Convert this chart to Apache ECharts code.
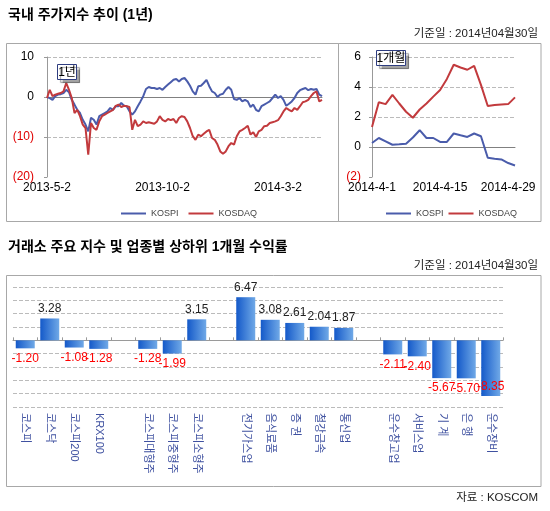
<!DOCTYPE html>
<html><head><meta charset="utf-8">
<script src="https://cdn.jsdelivr.net/npm/echarts@6/dist/echarts.min.js"></script>
<style>html,body{margin:0;padding:0;background:#fff}#c{width:550px;height:511px}</style>
</head><body><div id="c"></div>
<script>
// ---- 1-year index trend (% change) ----
const yearTickLabels = ['2013-5-2', '2013-10-2', '2014-3-2'];
const yearTickIndex = [0, 42, 84];
const kospiYear = [0, -0.3, -0.7, 0.2, 0.6, 0.7, 1.0, 1.8, 1.2, -0.7,
  -1.9, -3.2, -4.0, -5.7, -6.9, -8.6, -5.2, -5.7, -6.9, -4.8,
  -4.4, -4.0, -3.6, -2.75, -3.2, -2.3, -2.3, -1.5, -2.2, -2.3,
  -3.6, -4.4, -3.6, -2.3, -1.1, 0.2, 2.0, 2.5, 2.25, 2.25,
  2.0, 2.25, 1.8, 2.5, 3.1, 3.7, 4.3, 4.5, 3.9, 4.5,
  4.75, 3.9, 2.8, 1.4, 0.6, 2.7, 2.8, 3.5, 4.3, 2.7,
  1.4, 1.0, 0, 0.6, 0.8, 1.8, 2.5, 1.8, -0.5, -0.7,
  -0.25, -1.1, -0.7, -1.1, -2.5, -1.9, -3.2, -3.6, -2.3, -1.9,
  -1.5, -1.1, -0.25, 0.6, -0.25, 0.2, -0.7, -2.2, -1.7, -1.1,
  -0.25, 1.0, 1.7, 2.0, 2.25, 1.7, 2.0, 1.8, 2.0, 0.6, 0.2];
const kosdaqYear = [-0.25, 1.8, 0.2, 0.6, 0.8, 1.0, 1.4, 3.5, 1.8, -0.25,
  -4.0, -3.2, -4.8, -6.9, -7.75, -14.4, -6.5, -7.75, -8.2, -6.1,
  -4.8, -4.4, -4.0, -3.6, -3.2, -2.2, -1.9, -2.5, -2.2, -2.3,
  -2.5, -8.2, -5.7, -7.3, -6.9, -6.1, -6.5, -6.3, -6.5, -6.7,
  -6.1, -4.8, -5.7, -6.1, -5.5, -5.8, -5.5, -6.5, -5.25, -4.8,
  -5.0, -6.1, -7.75, -9.8, -10.7, -9.4, -9.8, -9.2, -8.6, -8.2,
  -10.25, -10.7, -11.9, -13.6, -14.2, -13.6, -12.3, -11.5, -11.9, -9.8,
  -8.6, -8.2, -7.75, -7.2, -9.4, -8.8, -10.0, -8.6, -8.2, -7.3,
  -7.2, -6.5, -6.3, -6.1, -5.8, -4.8, -3.6, -2.75, -3.2, -3.6,
  -2.75, -3.2, -2.3, -1.3, -1.1, -0.7, 0.2, 1.0, 1.4, -1.1, -0.7];

// ---- 1-month index trend (% change) ----
const monthDates = ['2014-4-1', '2014-4-2', '2014-4-3', '2014-4-4', '2014-4-7', '2014-4-8',
  '2014-4-9', '2014-4-10', '2014-4-11', '2014-4-14', '2014-4-15', '2014-4-16', '2014-4-17',
  '2014-4-18', '2014-4-21', '2014-4-22', '2014-4-23', '2014-4-24', '2014-4-25', '2014-4-28',
  '2014-4-29', '2014-4-30'];
const kospiMonth = [0.27, 0.6, 0.38, 0.15, 0.18, 0.22, 0.63, 1.12, 0.6, 0.6,
  0.34, 0.34, 0.9, 0.78, 0.67, 0.9, 0.72, -0.72, -0.78, -0.83, -1.07, -1.23];
const kosdaqMonth = [1.34, 2.98, 2.86, 3.47, 2.9, 2.35, 1.95, 2.5, 2.9, 3.36, 3.8,
  4.54, 5.48, 5.3, 5.15, 5.41, 4.14, 2.73, 2.8, 2.84, 2.86, 3.31];

// ---- 1-month returns of main indices & sectors ----
const barCategories = ['코스피', '코스닥', '코스피200', 'KRX100', '',
  '코스피대형주', '코스피중형주', '코스피소형주', '',
  '전기가스업', '음식료품', '증 권', '철강금속', '통신업', '',
  '운수창고업', '서비스업', '기 계', '은 행', '운수장비'];
const barValues = [-1.20, 3.28, -1.08, -1.28, null,
  -1.28, -1.99, 3.15, null,
  6.47, 3.08, 2.61, 2.04, 1.87, null,
  -2.11, -2.40, -5.67, -5.70, -8.35];

const baseDateText = '기준일 : 2014년04월30일';
const sourceText = '자료 : KOSCOM';
</script>
<script>
const F = '"Liberation Sans", "Noto Sans CJK KR", sans-serif';
const BLUE = '#4a5cab', RED = '#c23a3d';
const chart = echarts.init(document.getElementById('c'), null, {renderer: 'canvas'});

const negRed = v => (v < 0 ? '#e00000' : '#000');
const paren = v => (v < 0 ? '(' + (-v) + ')' : String(v));

// labels that would fall outside the plot (below -8) are kept inside the bar end
const barData = barValues.map(v => v == null ? null : ({
  value: v,
  label: {
    position: v < -8 ? 'insideBottom' : (v < 0 ? 'bottom' : 'top'),
    distance: v < -8 ? 3 : 4,
    color: v < 0 ? '#ff0000' : '#222'
  }
}));

function boxRect(x, y, w, h) {
  return {type: 'rect', shape: {x, y, width: w, height: h},
    style: {fill: 'none', stroke: '#a8a8a8', lineWidth: 1}, z: 0, silent: true};
}
function tag(x, y, w, h, t) {
  return [
    {type: 'rect', shape: {x, y, width: w, height: h},
      style: {fill: '#fff', stroke: '#2e3d80', lineWidth: 1,
        shadowBlur: 1, shadowOffsetX: 3, shadowOffsetY: 3, shadowColor: 'rgba(0,0,0,0.35)'}, z: 100},
    {type: 'text', x: x + w / 2, y: y + h / 2 + 0.5,
      style: {text: t, font: '12px ' + F, fill: '#000', textAlign: 'center', textVerticalAlign: 'middle'}, z: 101}
  ];
}

const option = {
  animation: false,
  backgroundColor: '#fff',
  graphic: [
    {type: 'text', x: 8, y: 15, style: {text: '국내 주가지수 추이 (1년)', font: 'bold 14px ' + F, fill: '#000', textVerticalAlign: 'middle'}},
    {type: 'text', x: 538, y: 34, style: {text: baseDateText, font: '11.5px ' + F, fill: '#222', textAlign: 'right', textVerticalAlign: 'middle'}},
    boxRect(6.5, 43.5, 332, 178),
    boxRect(338.5, 43.5, 202.5, 178),
    ...tag(57.5, 64.5, 19, 15, '1년'),
    ...tag(376.5, 50.5, 29, 15, '1개월'),
    {type: 'text', x: 8, y: 247, style: {text: '거래소 주요 지수 및 업종별 상하위 1개월 수익률', font: 'bold 14px ' + F, fill: '#000', textVerticalAlign: 'middle'}},
    {type: 'text', x: 538, y: 266, style: {text: baseDateText, font: '11.5px ' + F, fill: '#222', textAlign: 'right', textVerticalAlign: 'middle'}},
    boxRect(6.5, 275.5, 534.5, 211),
    {type: 'text', x: 538, y: 498, style: {text: sourceText, font: '11.5px ' + F, fill: '#222', textAlign: 'right', textVerticalAlign: 'middle'}}
  ],
  legend: [
    {data: ['KOSPI', 'KOSDAQ'], left: 116, top: 204, icon: 'rect', itemWidth: 25, itemHeight: 2, itemGap: 10,
      textStyle: {fontSize: 9, fontFamily: F, color: '#444'}, selectedMode: false},
    {data: ['KOSPI', 'KOSDAQ'], left: 381, top: 204, icon: 'rect', itemWidth: 25, itemHeight: 2, itemGap: 5,
      textStyle: {fontSize: 9, fontFamily: F, color: '#444'}, selectedMode: false}
  ],
  grid: [
    {left: 47, top: 57, width: 275, height: 120, outerBoundsMode: 'none', containLabel: false},
    {left: 372, top: 57, width: 143, height: 120, outerBoundsMode: 'none', containLabel: false},
    {left: 13, top: 287, width: 490, height: 120, outerBoundsMode: 'none', containLabel: false}
  ],
  xAxis: [
    {gridIndex: 0, type: 'category', boundaryGap: false, data: kospiYear.map((_, i) => i),
      axisLine: {onZero: true, lineStyle: {color: '#808080', width: 1}}, axisTick: {show: false},
      axisLabel: {interval: (i) => yearTickIndex.includes(i), formatter: (v, i) => yearTickLabels[yearTickIndex.indexOf(i)] || '',
        margin: 5, fontSize: 12, fontFamily: F, color: '#000', showMinLabel: true}},
    {gridIndex: 1, type: 'category', boundaryGap: false, data: monthDates,
      axisLine: {onZero: true, lineStyle: {color: '#808080', width: 1}}, axisTick: {show: false},
      axisLabel: {interval: 9, margin: 5, fontSize: 12, fontFamily: F, color: '#000'}},
    {gridIndex: 2, type: 'category', data: barCategories,
      axisLine: {onZero: true, lineStyle: {color: '#9a9a9a', width: 1}},
      axisTick: {show: true, inside: true, length: 3, lineStyle: {color: '#9a9a9a'}},
      axisLabel: {interval: 0, rotate: -90, margin: 6, fontSize: 11, fontFamily: F, color: '#3f51a0'}}
  ],
  yAxis: [
    {gridIndex: 0, type: 'value', min: -20, max: 10, interval: 10,
      axisLine: {show: true, lineStyle: {color: '#999'}}, axisTick: {show: true, length: 3, lineStyle: {color: '#999'}},
      axisLabel: {formatter: paren, color: negRed, fontSize: 12, fontFamily: F, margin: 13},
      splitLine: {show: true, lineStyle: {type: 'dashed', color: ['rgba(0,0,0,0)', '#bbb', '#bbb', '#bbb']}}},
    {gridIndex: 1, type: 'value', min: -2, max: 6, interval: 2,
      axisLine: {show: true, lineStyle: {color: '#999'}}, axisTick: {show: true, length: 3, lineStyle: {color: '#999'}},
      axisLabel: {formatter: paren, color: negRed, fontSize: 12, fontFamily: F, margin: 11},
      splitLine: {show: true, lineStyle: {type: 'dashed', color: ['rgba(0,0,0,0)', '#bbb', '#bbb', '#bbb', '#bbb']}}},
    {gridIndex: 2, type: 'value', min: -10, max: 8, interval: 2,
      axisLine: {show: false}, axisTick: {show: false}, axisLabel: {show: false},
      splitLine: {show: true, lineStyle: {type: 'dashed', color: '#bbb'}}}
  ],
  series: [
    {name: 'KOSPI', type: 'line', xAxisIndex: 0, yAxisIndex: 0, data: kospiYear, showSymbol: false, symbol: 'none',
      lineStyle: {color: BLUE, width: 2}, itemStyle: {color: BLUE}, z: 3},
    {name: 'KOSDAQ', type: 'line', xAxisIndex: 0, yAxisIndex: 0, data: kosdaqYear, showSymbol: false, symbol: 'none',
      lineStyle: {color: RED, width: 2}, itemStyle: {color: RED}, z: 4},
    {name: 'KOSPI', type: 'line', xAxisIndex: 1, yAxisIndex: 1, data: kospiMonth, showSymbol: false, symbol: 'none',
      lineStyle: {color: BLUE, width: 2}, itemStyle: {color: BLUE}, z: 3},
    {name: 'KOSDAQ', type: 'line', xAxisIndex: 1, yAxisIndex: 1, data: kosdaqMonth, showSymbol: false, symbol: 'none',
      lineStyle: {color: RED, width: 2}, itemStyle: {color: RED}, z: 4},
    {name: '수익률', type: 'bar', xAxisIndex: 2, yAxisIndex: 2, data: barData, barWidth: 19,
      itemStyle: {color: new echarts.graphic.LinearGradient(0, 0, 1, 0, [
        {offset: 0, color: '#1459c9'}, {offset: 1, color: '#70a9e7'}])},
      label: {show: true, fontSize: 12, fontFamily: F,
        formatter: p => (p.value == null ? '' : Number(p.value).toFixed(2))}}
  ]
};
chart.setOption(option);
</script>
</body></html>
